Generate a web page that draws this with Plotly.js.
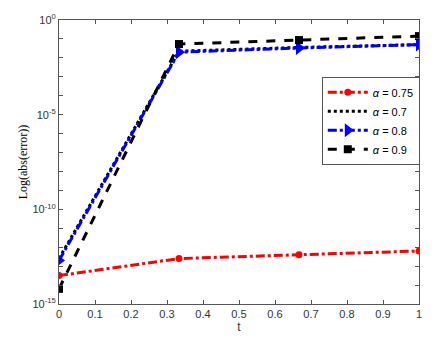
<!DOCTYPE html>
<html>
<head>
<meta charset="utf-8">
<script src="https://cdn.plot.ly/plotly-3.0.1.min.js"></script>
<style>body{margin:0;background:#fff}#plot{width:446px;height:342px}</style>
</head>
<body>
<div id="plot"></div>
<script>
const t = [0, 1/3, 2/3, 1]
// log10 of the error
const err075 = [-13.5, -12.6, -12.4, -12.2]
const err07 = [-12.6, -1.65, -1.45, -1.3]
const err08 = [-12.7, -1.7, -1.48, -1.3]
const err09 = [-14.2, -1.27, -1.06, -0.85]
const labels = ['<i>α</i> = 0.75', '<i>α</i> = 0.7', '<i>α</i> = 0.8', '<i>α</i> = 0.9']
const yTickExp = [-15, -10, -5, 0]

const pow10 = arr => arr.map(v => Math.pow(10, v))

const decades = []
for (let k = -15; k <= 0; k++) decades.push(Math.pow(10, k))

const data = [
  {
    x: t, y: pow10(err075), name: labels[0], mode: 'lines+markers',
    line: {color: '#ff0000', width: 3, dash: 'dashdot'},
    marker: {symbol: 'circle', size: 7, color: '#ff0000'}
  },
  {
    x: t, y: pow10(err07), name: labels[1], mode: 'lines',
    line: {color: '#000000', width: 3, dash: 'dot'}
  },
  {
    x: t, y: pow10(err08), name: labels[2], mode: 'lines+markers',
    line: {color: '#0000ff', width: 3, dash: 'dashdot'},
    marker: {symbol: 'triangle-right', size: 12, color: '#0000ff'}
  },
  {
    x: t, y: pow10(err09), name: labels[3], mode: 'lines+markers',
    line: {color: '#000000', width: 3, dash: 'dash'},
    marker: {symbol: 'square', size: 8, color: '#000000'}
  }
]

const axisFont = {family: 'Liberation Sans, Arial, sans-serif', size: 11, color: '#333'}

const layout = {
  width: 446, height: 342,
  margin: {l: 59, r: 27, t: 20, b: 38},
  paper_bgcolor: '#fff', plot_bgcolor: '#fff',
  showlegend: true,
  legend: {
    x: 0.73, y: 0.8, xanchor: 'left', yanchor: 'top',
    bgcolor: '#fff', bordercolor: '#555', borderwidth: 1,
    font: {family: 'Liberation Sans, Arial, sans-serif', size: 11, color: '#000'},
    itemwidth: 40, tracegroupgap: 0
  },
  xaxis: {
    range: [0, 1], tickvals: [0, 0.1, 0.2, 0.3, 0.4, 0.5, 0.6, 0.7, 0.8, 0.9, 1],
    ticktext: ['0', '0.1', '0.2', '0.3', '0.4', '0.5', '0.6', '0.7', '0.8', '0.9', '1'],
    ticks: 'inside', ticklen: 4, tickcolor: '#555', mirror: 'ticks',
    showline: true, linecolor: '#555', linewidth: 1, showgrid: false, zeroline: false,
    tickfont: axisFont,
    title: {text: 't', font: {family: 'Liberation Sans, Arial, sans-serif', size: 12, color: '#333'}, standoff: 2}
  },
  yaxis: {
    type: 'log', range: [-15, 0],
    tickvals: pow10(yTickExp), ticktext: yTickExp.map(k => '10<sup>' + k + '</sup>'),
    minor: {tickvals: decades, ticks: 'inside', ticklen: 4, tickcolor: '#555'},
    ticks: 'inside', ticklen: 4, tickcolor: '#555', mirror: 'ticks',
    showline: true, linecolor: '#555', linewidth: 1, showgrid: false, zeroline: false,
    tickfont: axisFont,
    title: {text: 'Log(abs(error))', font: {family: 'Liberation Serif, Times New Roman, serif', size: 12, color: '#000'}, standoff: 2}
  }
}

Plotly.newPlot('plot', data, layout, {displayModeBar: false, staticPlot: true})
</script>
</body>
</html>
